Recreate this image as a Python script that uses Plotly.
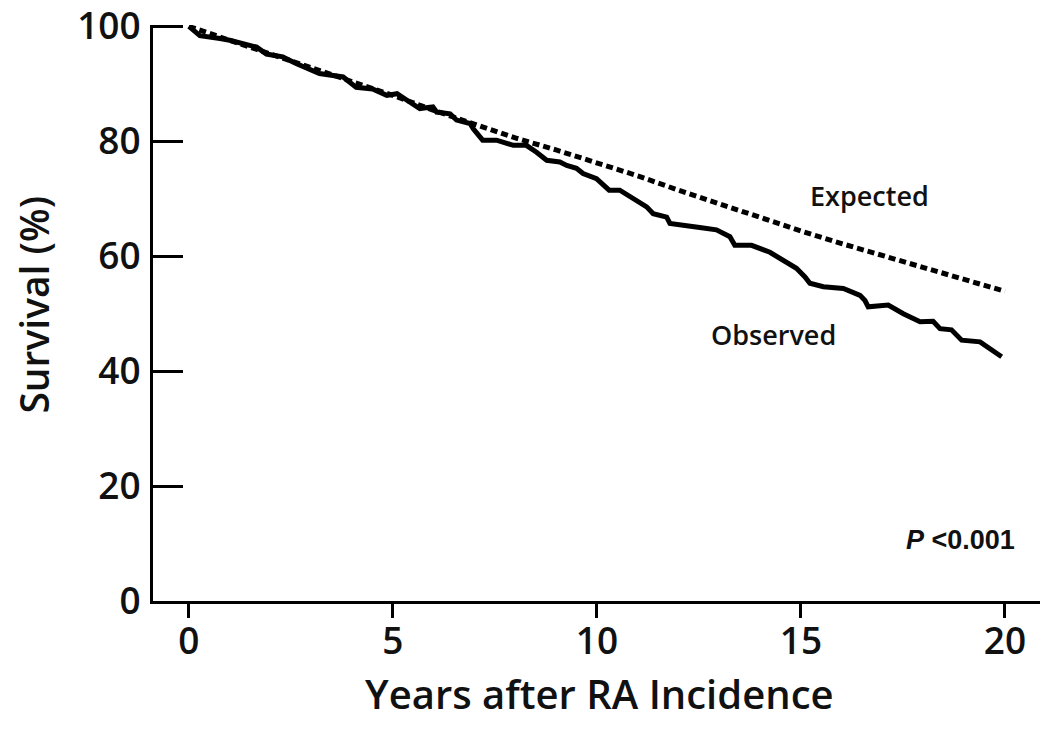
import plotly.graph_objects as go

# Observed survival (Kaplan-Meier)
obs_years = [0, 0.27, 0.76, 1.0, 1.66, 1.9, 2.3, 2.64, 3.2, 3.78, 4.1, 4.5, 4.85, 5.1, 5.42,
             5.66, 5.98, 6.07, 6.4, 6.56, 6.89, 6.97, 7.2, 7.54, 7.95, 8.27, 8.52, 8.77, 9.09,
             9.26, 9.5, 9.66, 9.99, 10.3, 10.56, 10.9, 11.22, 11.38, 11.71, 11.79, 12.2, 12.52,
             12.93, 13.26, 13.38, 13.79, 14.24, 14.57, 14.89, 15.1, 15.22, 15.55, 16.04, 16.45,
             16.57, 16.65, 17.14, 17.51, 17.92, 18.24, 18.41, 18.69, 18.94, 19.39, 19.92]
obs_surv = [100, 98.4, 97.9, 97.6, 96.4, 95.2, 94.7, 93.5, 91.8, 91.2, 89.4, 89.1, 88.0, 88.3, 86.8,
            85.7, 86.0, 85.1, 84.8, 83.7, 83.1, 82.2, 80.2, 80.2, 79.3, 79.3, 78.1, 76.7, 76.4,
            75.8, 75.3, 74.4, 73.5, 71.5, 71.5, 70.0, 68.6, 67.4, 66.8, 65.7, 65.4, 65.0,
            64.6, 63.4, 61.9, 61.9, 60.7, 59.3, 57.9, 56.4, 55.3, 54.7, 54.4, 53.2,
            52.3, 51.2, 51.5, 50.0, 48.6, 48.7, 47.4, 47.2, 45.4, 45.1, 42.5]

# Expected survival
exp_years = [0, 1, 2, 3, 4, 5, 6, 7, 8, 9, 10, 11, 12, 13, 14, 15, 16, 17, 18, 19, 20]
exp_surv = [100, 97.6, 95.2, 92.9, 90.5, 88.0, 85.4, 82.9, 80.6, 78.5, 76.3, 74.0, 71.5, 69.1,
            66.7, 64.4, 62.2, 60.1, 58.0, 56.0, 53.9]

x_ticks = [0, 5, 10, 15, 20]
y_ticks = [0, 20, 40, 60, 80, 100]

FONT = "Open Sans"
TXT = "#111111"

fig = go.Figure()
fig.add_trace(go.Scatter(x=exp_years, y=exp_surv, mode="lines", name="Expected",
                         line=dict(color="black", width=5, dash="7px,4px"),
                         cliponaxis=False, showlegend=False))
fig.add_trace(go.Scatter(x=obs_years, y=obs_surv, mode="lines", name="Observed",
                         line=dict(color="black", width=5),
                         cliponaxis=False, showlegend=False))

fig.update_layout(
    width=1050, height=733,
    margin=dict(l=153, r=10, t=25, b=132),
    paper_bgcolor="white", plot_bgcolor="white",
    font=dict(family=FONT, color=TXT),
    xaxis=dict(range=[-0.88, 20.86], tickvals=x_ticks, ticktext=[str(v) for v in x_ticks],
               automargin=False, ticklabeloverflow="allow",
               showgrid=False, zeroline=False, showline=True, linecolor="black", linewidth=3,
               ticks="outside", ticklen=14, tickwidth=3, tickcolor="black",
               tickfont=dict(size=37, family=FONT, color=TXT, weight=600), ticklabelstandoff=-8),
    yaxis=dict(range=[0, 100.25], tickvals=y_ticks, ticktext=[str(v) for v in y_ticks],
               automargin=False, ticklabeloverflow="allow",
               showgrid=False, zeroline=False, showline=True, linecolor="black", linewidth=3,
               ticks="inside", ticklen=30, tickwidth=3, tickcolor="black",
               tickfont=dict(size=37, family=FONT, color=TXT, weight=600), ticklabelstandoff=2),
    annotations=[
        dict(text="Years after RA Incidence", xref="paper", yref="paper", x=0.503, y=-0.16,
             showarrow=False, font=dict(size=40, family=FONT, color=TXT, weight=600),
             xanchor="center", yanchor="middle"),
        dict(text="Survival (%)", xref="paper", yref="paper", x=-0.135, y=0.515,
             showarrow=False, textangle=-90, font=dict(size=39, family=FONT, color=TXT, weight=600),
             xanchor="center", yanchor="middle"),
        dict(text="Expected", x=16.67, y=70.6, xref="x", yref="y", showarrow=False,
             font=dict(size=27, family=FONT, color=TXT, weight=600), xanchor="center", yanchor="middle"),
        dict(text="Observed", x=14.34, y=46.3, xref="x", yref="y", showarrow=False,
             font=dict(size=27, family=FONT, color=TXT, weight=600), xanchor="center", yanchor="middle"),
        dict(text="<i>P</i> &lt;0.001", x=18.9, y=10.6, xref="x", yref="y", showarrow=False,
             font=dict(size=27, family="Liberation Sans", color=TXT, weight="bold"),
             xanchor="center", yanchor="middle"),
    ],
)

fig.write_html("out.html", post_script="document.body.style.margin='0';",
               config={"displayModeBar": False})
